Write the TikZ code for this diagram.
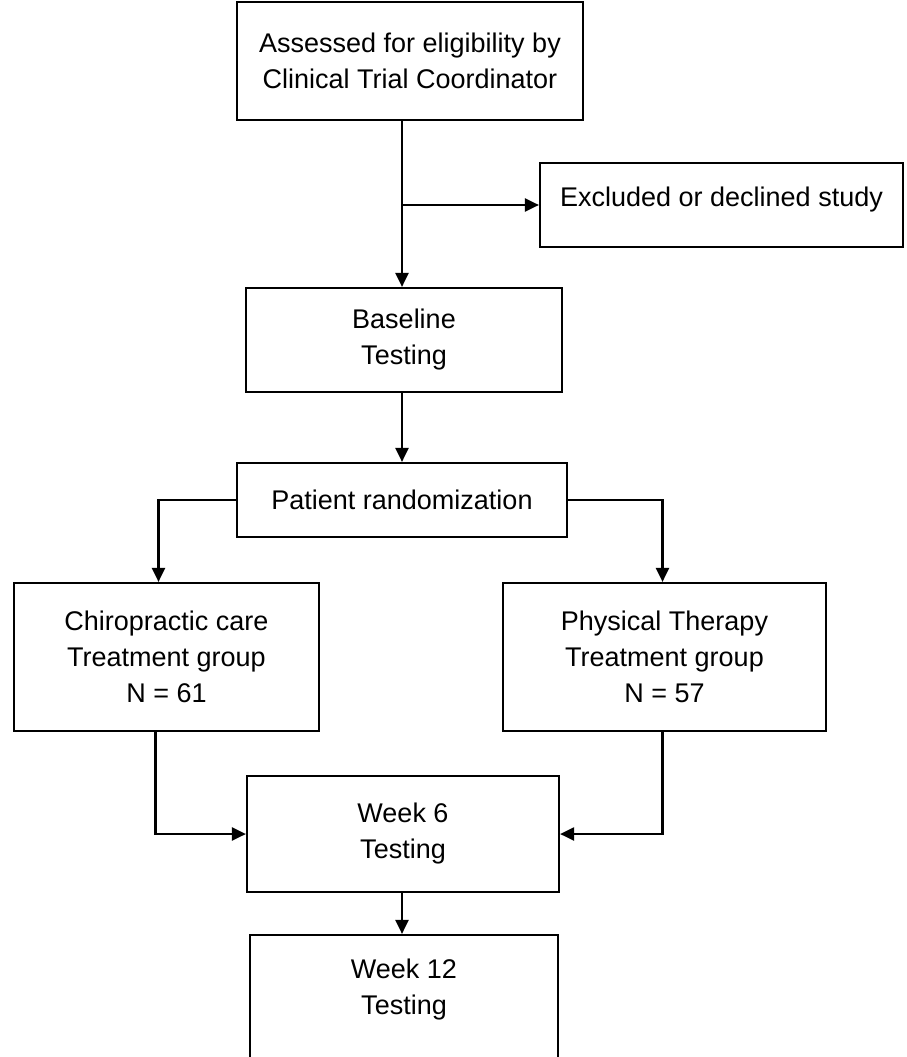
\documentclass[tikz,border=0pt]{standalone}
\usepackage{fontspec}
\setmainfont{Liberation Sans}
\usetikzlibrary{arrows.meta}
\begin{document}
\begin{tikzpicture}[
        x=1pt, y=-1pt, line width=2.2pt,
        every node/.style={draw, rectangle, align=center, inner sep=0pt,
            font=\fontsize{27}{36}\selectfont},
        flow/.style={draw, -{Triangle[length=14pt, width=13pt]}},
    ]
    \clip (0,0) rectangle (906,1057);
    \node[minimum width=346pt, minimum height=118pt](assess) at (410,61) {Assessed for eligibility by\\Clinical Trial Coordinator};
    \node[minimum width=363pt, minimum height=84pt, text height=20pt, text depth=17pt](excl) at (721.5,205) {Excluded or declined study};
    \node[minimum width=316pt, minimum height=104pt](base) at (404,340) {Baseline\\Testing};
    \node[minimum width=330pt, minimum height=74pt](rand) at (402,500) {Patient randomization};
    \node[minimum width=305pt, minimum height=148pt](chiro) at (166.5,657) {Chiropractic care\\Treatment group\\N = 61};
    \node[minimum width=323pt, minimum height=148pt](pt) at (664.5,657) {Physical Therapy\\Treatment group\\N = 57};
    \node[minimum width=312pt, minimum height=116pt](w6) at (403,834) {Week 6\\Testing};
    \node[minimum width=308pt, minimum height=144pt, text depth=40pt](w12) at (404,1007) {Week 12\\Testing};
    \coordinate (trunk) at (402,0);
    \coordinate (split) at (trunk |- excl.west);
    \draw[flow] (assess.south -| trunk) -- (base.north -| trunk);
    \draw[flow] (split) -- (excl.west);
    \draw[flow] (base.south -| trunk) -- (rand.north -| trunk);
    \draw[flow] (rand.west) -| ([xshift=-8pt]chiro.north);
    \draw[flow] (rand.east) -| ([xshift=-2pt]pt.north);
    \draw[flow] ([xshift=-11pt]chiro.south) |- (w6.west);
    \draw[flow] ([xshift=-2pt]pt.south) |- (w6.east);
    \draw[flow] (w6.south -| trunk) -- (w12.north -| trunk);
\end{tikzpicture}
\end{document}
